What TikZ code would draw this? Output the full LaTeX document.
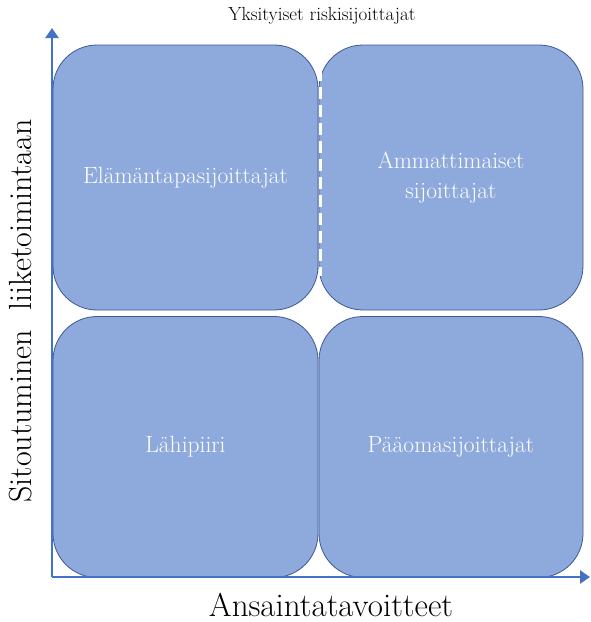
\documentclass[tikz,border=0pt]{standalone}
\usepackage{tikz}
\usetikzlibrary{arrows.meta,positioning}

\definecolor{boxfill}{RGB}{142,169,219}
\definecolor{boxline}{RGB}{60,88,150}
\definecolor{axisblue}{RGB}{68,114,196}

\begin{document}
\begin{tikzpicture}[x=1pt,y=-1pt,
quad/.style={
rectangle,
rounded corners=44pt,
draw=boxline,
line width=0.8pt,
fill=boxfill,
text=white,
align=center,
inner sep=0pt,
font=\fontsize{23.5}{30}\selectfont
},
axis/.style={
draw=axisblue,
line width=2.6pt,
-{Triangle[width=13pt,length=10pt]}
}]

\useasboundingbox (0,0) rectangle (590,622);

% the four groups
\node[quad,minimum width=265pt,minimum height=265pt] (tl) at (185.5,177.5) {Elämäntapasijoittajat};
\node[quad,minimum width=264pt,minimum height=265pt] (tr) at (451,177.5) {Ammattimaiset\\sijoittajat};
\node[quad,minimum width=265pt,minimum height=261pt] (bl) at (185.5,447) {Lähipiiri};
\node[quad,minimum width=264pt,minimum height=261pt] (br) at (451,447) {Pääomasijoittajat};

\draw[white,line width=3pt,dash pattern=on 12pt off 6pt]
  ([xshift=2pt,yshift=-24pt]tl.north east) -- ([xshift=2pt,yshift=34pt]tl.south east);

% axes
\coordinate (o) at (52,577);
\coordinate (ytip) at (52,28);
\coordinate (xtip) at (590,577);
\draw[axis] (o) -- (ytip);
\draw[axis] (o) -- (xtip);

\node[font=\fontsize{19}{22}\selectfont] (top) at (322,16) {Yksityiset riskisijoittajat};
\node[font=\fontsize{33}{38}\selectfont] (xlab) at (331,605) {Ansaintatavoitteet};
\node[font=\fontsize{32}{38}\selectfont,rotate=90] (ylab) at (21,311) {Sitoutuminen\ \ liiketoimintaan};

\end{tikzpicture}
\end{document}
